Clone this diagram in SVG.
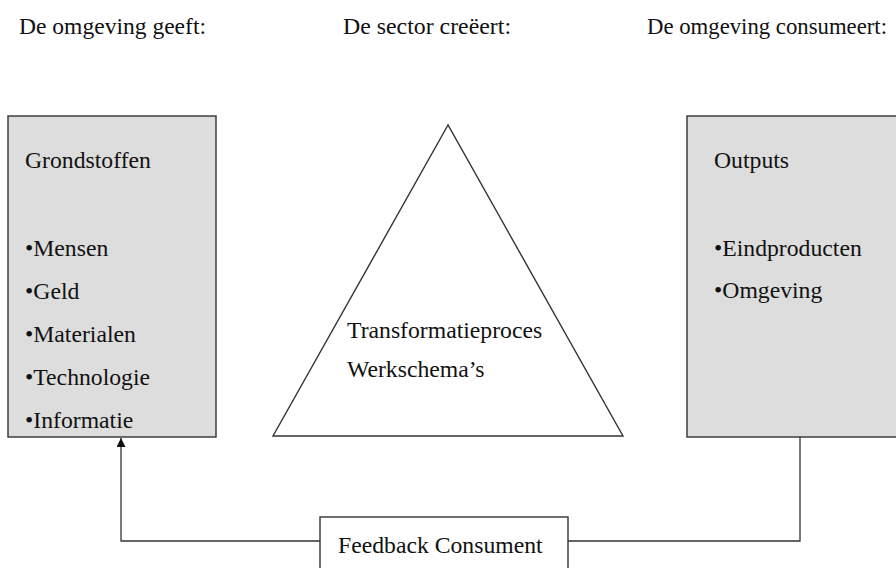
<svg xmlns="http://www.w3.org/2000/svg" width="896" height="568" viewBox="0 0 896 568">
  <style>
    text { font-family: "Liberation Serif", "Times New Roman", serif; font-size: 23.7px; fill: #111; }
    .box { fill: #dddddd; stroke: #333; stroke-width: 1.4; }
    .plain { fill: #ffffff; stroke: #333; stroke-width: 1.4; }
    .conn { fill: none; stroke: #333; stroke-width: 1.3; }
  </style>
  <defs>
    <marker id="arrow" viewBox="0 0 10 10" refX="10" refY="5" markerWidth="9" markerHeight="9" markerUnits="userSpaceOnUse" orient="auto">
      <path d="M0,0 L10,5 L0,10 Z" fill="#111"/>
    </marker>
  </defs>

  <!-- column headings -->
  <g id="headings">
    <text x="19" y="34" textLength="187" lengthAdjust="spacingAndGlyphs">De omgeving geeft:</text>
    <text x="343" y="34" textLength="168" lengthAdjust="spacingAndGlyphs">De sector creëert:</text>
    <text x="647" y="34" textLength="240" lengthAdjust="spacingAndGlyphs">De omgeving consumeert:</text>
  </g>

  <!-- connectors -->
  <g id="connectors">
    <path class="conn" d="M320,541 H121 V438" marker-end="url(#arrow)"/>
    <path class="conn" d="M800,437 V541 H568"/>
  </g>

  <!-- inputs -->
  <g id="grondstoffen">
    <rect class="box" x="8" y="116" width="208" height="321"/>
    <text x="25" y="168">Grondstoffen</text>
    <text x="25" y="256">•Mensen</text>
    <text x="25" y="299">•Geld</text>
    <text x="25" y="342">•Materialen</text>
    <text x="25" y="385">•Technologie</text>
    <text x="25" y="428">•Informatie</text>
  </g>

  <!-- transformation -->
  <g id="transformatie">
    <polygon class="plain" points="448,125 273,436 623,436"/>
    <text x="347" y="338">Transformatieproces</text>
    <text x="347" y="377">Werkschema’s</text>
  </g>

  <!-- outputs -->
  <g id="outputs">
    <rect class="box" x="687" y="116" width="220" height="321"/>
    <text x="714" y="168">Outputs</text>
    <text x="714" y="256">•Eindproducten</text>
    <text x="714" y="298">•Omgeving</text>
  </g>

  <!-- feedback -->
  <g id="feedback">
    <rect class="plain" x="320" y="517" width="248" height="70"/>
    <text x="338" y="553">Feedback Consument</text>
  </g>
</svg>
